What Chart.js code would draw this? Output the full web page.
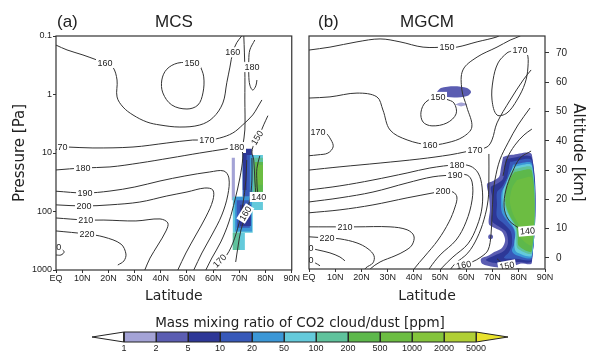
<!DOCTYPE html>
<html><head><meta charset="utf-8">
<script src="https://cdn.jsdelivr.net/npm/chart.js@4.4.1/dist/chart.umd.min.js"></script>
<style>
html,body{margin:0;padding:0;background:#fff;}
#wrap{position:relative;width:594px;height:352px;overflow:hidden;background:#fff;}
.c{position:absolute;}
</style></head><body>
<div id="wrap">
<div class="c" style="left:0;top:0;width:300px;height:305px"><canvas id="ca"></canvas></div>
<div class="c" style="left:300px;top:0;width:294px;height:305px"><canvas id="cb"></canvas></div>
<div class="c" style="left:60px;top:300px;width:480px;height:52px"><canvas id="cc"></canvas></div>
</div>
<script>
// ---------- ticks & levels ----------
const latTicks = [0,10,20,30,40,50,60,70,80,90];
const latTickLabels = ['EQ','10N','20N','30N','40N','50N','60N','70N','80N','90N'];
const pressureTicks = [0.1,1,10,100,1000];
const pressureTickLabels = ['0.1','1','10','100','1000'];
const altTicks = [0,10,20,30,40,50,60,70];
const levelBounds = ['1','2','5','10','20','50','100','200','500','1000','2000','5000'];
const levelColors = ['#a4a3d6','#5b5db2','#2d3797','#3759b9','#3b97d7','#64cadb','#5fc29c','#5db84b','#6cbd42','#84c43c','#b0cf35'];
const overColor = '#e9e22c';
const underColor = '#ffffff';

// ---------- (a) MCS temperature contours [lat, Pa] ----------
const mcs160 = [[0,0.143],[4.2,0.173],[10.3,0.211],[15.6,0.257],[18.7,0.29],[21.7,0.34],[23.3,0.565],[23.3,1.1],[25.6,1.64],[29.4,2.24],[34.7,2.95],[39.7,3.32],[47.3,3.6],[54.9,3.32],[59.9,2.5],[63.7,1.4],[65.2,0.63],[66.4,0.34],[67.5,0.19],[69.0,0.13],[70.9,0.1],[71.5,0.09]];
const mcs150 = [[54.9,0.31],[56.4,0.50],[56.1,0.94],[54.2,1.51],[50.0,1.77],[44.2,1.51],[40.8,0.94],[40.4,0.565],[42.3,0.37],[46.5,0.29],[51.9,0.29],[54.9,0.31]];
const mcs180hook = [[75.9,0.117],[74.0,0.173],[73.6,0.257],[73.6,0.464],[74.0,0.69],[75.1,0.84],[76.3,0.71],[76.7,0.565]];
const mcs170 = [[0,7.9],[4.2,7.9],[14.1,8.2],[29.4,7.9],[42.3,6.75],[52.2,6.0],[57.6,6.0],[62.5,5.55],[67.5,4.55],[71.3,3.3],[75.1,2.24],[77.0,1.64],[78.6,1.24]];
const mcs180 = [[0,19.5],[10.3,18.0],[20.6,17.3],[32.0,14.8],[43.5,12.2],[54.9,10.0],[64.5,8.55],[69.0,7.9],[70.9,8.9],[71.3,12.2],[70.2,26.7],[68.3,63.6],[66.0,151],[62.9,332],[59.5,624],[57.2,1000]];
const mcsVert = [[71.3,7.6],[72.1,4.04],[72.1,1.24],[72.1,0.38],[71.7,0.1],[71.6,0.09]];
const mcs190 = [[0,45],[11.1,48.3],[20.6,44.7],[30.1,38.1],[39.7,30.1],[49.2,24.7],[58.7,21.1],[64.1,20.3],[66.0,26.7],[65.6,52],[63.3,115],[59.5,252],[55.7,512],[52.6,1000]];
const mcs200 = [[0,77],[10.7,80.5],[20.6,77],[32.0,68.9],[42.3,54.3],[50.0,46.4],[56.8,39.7],[59.9,43],[59.9,64],[57.2,124],[53.4,252],[49.6,512],[46.5,1000]];
const mcs210 = [[0,129],[11.4,140],[18.3,140],[30.5,145],[39.7,134],[42.7,157],[42.0,215],[38.9,374],[35.9,624],[33.9,1000]];
const mcs220 = [[0,215],[11.8,243],[18.3,273],[24.8,360],[26.7,532],[25.9,702],[23.6,822]];
const mcs230 = [[0,421],[1.9,435],[3.1,492],[1.9,554],[0,554]];
const mcs170b = [[72.8,13.2],[72.5,29.0],[71.3,77.4],[69.4,191],[66.7,421],[63.3,729],[60.6,1000]];
const mcs160b = [[74.8,12.2],[74.8,29.0],[74.0,63.6],[72.5,110],[70.6,207],[69.4,421],[68.6,729]];
const mcs150b = [[80.9,2.3],[79.3,3.3],[77.8,4.7],[75.9,6.5],[74.8,9.6],[75.5,13.2],[75.9,29.0],[76.3,52]];
const mcs140 = [[77.8,11.2],[76.7,18.3],[76.7,31.2],[77.0,46.4],[77.8,56.5],[79.3,58.8]];
const mcsContours = [mcs160,mcs150,mcs180hook,mcs170,mcs180,mcsVert,mcs190,mcs200,mcs210,mcs220,mcs230,mcs170b,mcs160b,mcs150b,mcs140];
// [text, lat, Pa, angle]
const mcsLabels = [['160',18.7,0.29,0],['160',67.5,0.19,0],['150',51.9,0.29,0],['180',74.8,0.34,0],
  ['170',1.5,7.9,0],['170',57.6,6.0,0],['180',10.3,18.0,0],['180',69.0,7.9,0],['190',11.1,48.3,0],
  ['200',10.7,80.5,0],['210',11.4,140,0],['220',11.8,243,0],['230',-0.9,405,0],
  ['150',76.8,5.5,-58],['160',72.3,108,-58],['140',77.4,56.5,0],['170',62.5,700,-45]];
// MCS CO2 cloud/dust cells: lat range, pressure range, level index
const mcsCellLat0 = [71.3,71.3,71.3,71.3,72.5,75.1,75.9,76.7,67.1,67.5,67.5,67.5,68.3,69.0,70.2];
const mcsCellLat1 = [79.0,75.5,74.0,72.8,74.8,79.0,79.0,79.0,68.3,75.1,72.1,70.2,74.8,74.0,74.4];
const mcsCellP0   = [10.8,10.8,10,10,8.5,12,14.2,16,12,56,230,230,56,64,77];
const mcsCellP1   = [94,64,56,43,10.8,56,46,35,64,230,455,455,220,190,177];
const mcsCellLevel= [5,4,3,2,2,6,7,8,0,5,5,6,4,3,2];

// ---------- (b) MGCM temperature contours [lat, km] ----------
const gcm150 = [[0,71.0],[8.0,72.0],[18.3,73.8],[27.1,74.8],[34.7,73.8],[43.5,72.0],[52.6,72.0],[56.4,72.0],[64.1,73.8],[71.7,75.5],[73.5,76.5]];
const gcm170loop = [[77.4,70.7],[80.5,71.0],[83.1,70.0],[83.5,65.2],[82.4,59.7],[79.3,53.9],[75.5,49.5],[71.7,48.8],[69.8,53.9],[70.2,60.8],[72.1,66.6],[75.5,70.0],[77.4,70.7]];
const gcm150loop = [[52.2,54.3],[55.3,52.9],[56.1,49.2],[52.6,46.1],[46.9,45.1],[43.5,46.4],[42.7,49.8],[44.6,53.3],[49.2,55.0],[52.2,54.3]];
const gcm160 = [[0,54.6],[8.0,55.0],[18.3,56.3],[25.9,55.0],[28.2,50.5],[30.9,43.7],[37.4,40.3],[46.1,38.6],[52.6,39.3],[58.7,41.3],[62.1,44.7],[60.2,51.5],[58.3,57.4],[58.7,64.2],[64.1,68.6],[71.7,72.0],[76.7,74.4],[80.5,75.8],[82,77]];
const gcm170a = [[0,43.0],[6.1,42.7],[8.4,40.3],[9.2,37.9],[7.2,35.8],[3.4,35.2],[0,34.9]];
const gcm170 = [[0,30.0],[11.8,31.1],[27.1,32.4],[42.3,33.8],[53.8,35.2],[59.5,36.2],[63.3,36.9],[67.9,37.9],[69.8,40.3],[71.7,46.1],[76.7,53.9],[81.7,60.8],[84.7,64.2]];
const gcm180 = [[0,23.2],[11.8,24.6],[24.4,26.6],[37.4,29.0],[46.1,30.7],[56.4,31.8],[61.4,31.4],[64.5,29.0],[66.0,24.2],[66.0,17.4],[64.1,10.9],[60.6,4.8],[54.9,0.3],[50.7,-3.4],[49.6,-5]];
const gcm190 = [[0,19.1],[11.8,20.5],[24.4,22.5],[37.4,25.6],[47.3,27.7],[55.7,28.3],[60.3,28.3],[62.2,25.9],[62.2,19.8],[59.9,12.3],[56.1,6.1],[50.0,1.0],[46.1,-3.4],[45.2,-5]];
const gcm200 = [[0,15.4],[11.8,16.4],[24.4,18.1],[37.4,20.5],[47.3,22.2],[51.1,22.9],[54.9,22.5],[56.4,20.8],[55.7,17.4],[53.4,12.3],[49.2,6.1],[43.9,0.3],[40.4,-3.4],[39.5,-5]];
const gcm210 = [[0,10.6],[13.7,10.6],[18.3,10.6],[30.9,10.6],[37.4,9.6],[40.0,7.5],[39.3,4.4],[36.6,2.4],[32.8,0.7],[27.1,-1.4],[23.3,-3.8],[22.5,-5]];
const gcm220 = [[0,7.2],[6.9,6.8],[11.8,6.5],[18.3,5.1],[22.5,3.1],[24.8,0.7],[24.4,-1.7],[21.7,-3.4],[20.5,-5]];
const gcm230a = [[0,3.4],[3.4,2.7],[8.0,1.7],[11.8,0.3],[13.7,-1.0]];
const gcm230b = [[0,-1.0],[2.3,-1.7],[4.2,-2.7]];
const gcm170d = [[68.6,35.5],[68.6,26.6],[68.3,19.8],[66.7,13.0],[64.1,6.8],[60.6,1.7],[55.7,-2.0],[53.8,-4.1],[53.2,-5]];
const gcm160b = [[57.5,-5],[58.3,-2.7],[62.2,-1.4],[65.6,0.3],[68.3,2.7],[69.4,7.9],[69.8,14.7],[70.2,21.5],[70.9,26.6],[72.8,33.5],[75.9,39.3],[79.7,45.4],[84.3,51.2]];
const gcm150c = [[74.0,28],[75.5,33.8],[78.5,38.5],[82,42],[85,44]];
const gcm150s = [[82,-4],[77.4,-3.4],[74.0,-2.0],[71.7,-0.3]];
const gcm140 = [[84.7,36.5],[80.5,34.1],[77.4,29.0],[75.1,23.2],[74.4,17.4],[75.9,13.3],[79.3,10.6],[83.1,9.2],[85,9.2]];
const gcmContours = [gcm150,gcm170loop,gcm150loop,gcm160,gcm170a,gcm170,gcm180,gcm190,gcm200,gcm210,gcm220,gcm230a,gcm230b,gcm170d,gcm160b,gcm150c,gcm150s,gcm140];
const gcmLabels = [['150',52.6,72.0,0],['170',80.5,71.0,0],['150',49.2,55.0,0],['160',46.1,38.6,0],['170',3.4,43.0,0],
  ['170',63.3,36.9,0],['180',56.4,31.8,0],['190',55.7,28.3,0],['200',51.1,22.9,0],['210',13.7,10.6,0],['220',6.9,6.8,0],
  ['230',-1.1,3.4,0],['230',-1.1,-0.7,0],['160',59.0,-2.4,-10],['150',75.5,-2.7,-10],['140',83.3,9.2,-5]];
// MGCM CO2 cloud/dust filled regions [lat, km] with level index
const gcmF1 = [[74.0,34.5],[77.4,35.2],[85.0,35.2],[85.0,-1.7],[80.5,-2.0],[75.9,-3.4],[70.6,-3.1],[66.0,-2.0],[65.6,-0.3],[68.3,0.7],[70.6,2.0],[73.6,3.4],[74.8,6.1],[73.6,8.9],[70.9,10.2],[68.6,11.6],[69.0,16.4],[68.6,21.2],[67.9,25.3],[70.2,26.3],[72.5,27.7],[73.2,30.7]];
const gcmF2 = [[75.1,33.8],[85.0,34.1],[85.0,-1.0],[79.7,-1.4],[75.1,-2.0],[70.6,-1.7],[67.5,-0.7],[70.6,0.7],[74.4,2.4],[75.9,5.1],[75.1,8.9],[72.1,10.9],[69.8,12.6],[70.2,17.1],[69.8,21.2],[69.4,24.2],[71.7,25.3],[74.0,27.0],[74.4,30.7]];
const gcmF3 = [[76.7,32.8],[85.0,33.1],[85.0,-0.3],[78.9,-0.3],[74.4,0],[76.3,2.0],[77.4,4.8],[77.0,8.9],[74.4,11.6],[71.7,14.0],[71.7,18.4],[71.7,22.5],[73.6,24.2],[75.5,27.3]];
const gcmF4 = [[77.8,31.8],[85.0,32.1],[85.0,0.3],[78.9,1.0],[77.4,2.4],[78.6,5.5],[78.2,9.6],[75.9,12.3],[73.6,15.4],[73.2,19.5],[73.6,22.9],[75.5,25.6],[76.7,28.3]];
const gcmF5 = [[77.9,31.1],[85.0,31.4],[85.0,1.0],[79.1,2.0],[78.3,4.8],[78.7,8.9],[76.8,12.3],[74.5,15.7],[73.8,19.8],[74.1,23.2],[75.3,25.9],[76.4,28.3]];
const gcmF6 = [[78.2,30.4],[85.0,30.7],[85.0,1.7],[79.7,3.1],[79.0,6.1],[79.0,9.6],[77.4,12.6],[75.2,16.4],[74.4,20.1],[74.8,23.6],[75.9,26.3],[76.7,28.7]];
const gcmF7 = [[78.5,29.4],[85.0,29.7],[85.0,2.4],[80.0,4.1],[79.6,7.5],[78.9,10.9],[76.6,14.3],[75.0,18.4],[75.0,22.2],[75.8,25.3],[76.9,27.7]];
const gcmF8 = [[79.3,26.6],[85.0,27.3],[85.0,4.4],[80.8,6.8],[80.1,10.9],[77.8,15.0],[76.6,19.1],[77.0,22.5],[77.8,24.6]];
const gcmDot = [[68.6,7.9],[69.8,7.9],[70.2,7.2],[69.8,6.5],[68.6,6.5],[68.3,7.2]];
const gcmEllipse = [[48.8,56.7],[50.3,58.0],[55.3,58.6],[60.3,58.0],[61.8,56.7],[60.3,55.3],[55.3,54.8],[50.3,55.3]];
const gcmEllipseSmall = [[55.7,52.4],[58.0,53.1],[60.3,52.4],[58.0,51.7]];
const gcmFills = [gcmF1,gcmF2,gcmF3,gcmF4,gcmF5,gcmF6,gcmF7,gcmF8,gcmDot,gcmEllipse,gcmEllipseSmall];
const gcmFillLevel = [1,2,3,4,5,6,7,8,1,1,0];

// ---------- helpers ----------
const SANS = '"Liberation Sans", Arial, sans-serif';
const DJV = '"DejaVu Sans", sans-serif';
const toXY = pts => pts.map(p => ({x:p[0], y:p[1]}));
function lineDS(pts){ return {data:toXY(pts), showLine:true, fill:false, borderColor:'#333', borderWidth:1, pointRadius:0, tension:0.35, order:0}; }
function polyDS(pts, color, order, tension){ return {data:toXY(pts), showLine:true, fill:'shape', backgroundColor:color, borderColor:color, borderWidth:0, pointRadius:0, tension:tension, order:order}; }

function labelPlugin(labels){
  return {id:'clabels', afterDatasetsDraw(chart){
    const {ctx, chartArea:a, scales} = chart;
    ctx.save();
    ctx.beginPath(); ctx.rect(a.left, a.top, a.right-a.left, a.bottom-a.top); ctx.clip();
    ctx.font = '9px ' + SANS; ctx.textAlign='center'; ctx.textBaseline='middle';
    for (const [t, lat, v, ang] of labels){
      const x = scales.x.getPixelForValue(lat), y = scales.y.getPixelForValue(v);
      ctx.save(); ctx.translate(x,y); ctx.rotate(ang*Math.PI/180);
      const w = ctx.measureText(t).width;
      ctx.fillStyle='#fff'; ctx.fillRect(-w/2-1.5,-5,w+3,10);
      ctx.fillStyle='#222'; ctx.fillText(t,0,0.5);
      ctx.restore();
    }
    ctx.restore();
  }};
}
function framePlugin(letter, dx){
  return {id:'frame', afterDraw(chart){
    const {ctx, chartArea:a} = chart;
    ctx.save(); ctx.strokeStyle='#333'; ctx.lineWidth=1.2;
    ctx.strokeRect(a.left, a.top, a.right-a.left, a.bottom-a.top);
    ctx.fillStyle='#222'; ctx.font='17px '+SANS; ctx.textAlign='left'; ctx.textBaseline='middle';
    ctx.fillText(letter, a.left+dx, 22);
    ctx.restore();
  }};
}
function latScale(h){
  return {type:'linear', min:0, max:90,
    afterBuildTicks: s => { s.ticks = latTicks.map(v => ({value:v})); },
    afterFit: s => { s.height = h; },
    ticks:{callback:(v,i)=>latTickLabels[i], font:{family:SANS,size:9}, color:'#222', padding:0, maxRotation:0, autoSkip:false},
    grid:{display:true, drawOnChartArea:false, drawTicks:true, tickLength:3, color:'#333'},
    border:{display:false},
    title:{display:true, text:'Latitude', font:{family:DJV,size:14}, color:'#222', padding:{top:0,bottom:0}}};
}
function titleOpt(t){
  return {display:true, text:t, fullSize:false, color:'#222', font:{family:SANS,size:17,weight:'normal'}, padding:{top:12,bottom:3.6}};
}

// ---------- panel (a) ----------
const dsA = mcsContours.map(lineDS);
mcsCellLat0.forEach((l0,i) => {
  const l1 = mcsCellLat1[i], p0 = mcsCellP0[i], p1 = mcsCellP1[i];
  dsA.push(polyDS([[l0,p0],[l1,p0],[l1,p1],[l0,p1]], levelColors[mcsCellLevel[i]], 100-i, 0));
});
new Chart(document.getElementById('ca'), {
  type:'scatter', data:{datasets:dsA},
  options:{responsive:true, maintainAspectRatio:false, animation:false,
    layout:{padding:{left:0,right:8,top:0,bottom:0}},
    plugins:{legend:{display:false}, tooltip:{enabled:false}, title:titleOpt('MCS')},
    scales:{
      x: latScale(35),
      y:{type:'logarithmic', reverse:true, min:0.1, max:1000,
        afterBuildTicks: s => { s.ticks = pressureTicks.map(v => ({value:v})); },
        afterFit: s => { s.width = 56; },
        ticks:{callback:(v,i)=>pressureTickLabels[i], font:{family:SANS,size:9}, color:'#222', padding:1, autoSkip:false},
        grid:{display:true, drawOnChartArea:false, drawTicks:true, tickLength:3, color:'#333'},
        border:{display:false},
        title:{display:true, text:'Pressure [Pa]', font:{family:DJV,size:15}, color:'#222', padding:{top:11,bottom:0}}}
    }},
  plugins:[labelPlugin(mcsLabels), framePlugin('(a)',1)]
});

// ---------- panel (b) ----------
const dsB = gcmContours.map(lineDS);
gcmFills.forEach((f,i) => dsB.push(polyDS(f, levelColors[gcmFillLevel[i]], 100-i, 0.3)));
new Chart(document.getElementById('cb'), {
  type:'scatter', data:{datasets:dsB},
  options:{responsive:true, maintainAspectRatio:false, animation:false,
    layout:{padding:{left:9,right:0,top:0,bottom:0}},
    plugins:{legend:{display:false}, tooltip:{enabled:false}, title:titleOpt('MGCM')},
    scales:{
      x: latScale(36),
      y:{type:'linear', position:'right', min:-3.8, max:75.8,
        afterBuildTicks: s => { s.ticks = altTicks.map(v => ({value:v})); },
        afterFit: s => { s.width = 49; },
        ticks:{callback:(v,i)=>String(altTicks[i]), font:{family:SANS,size:10}, color:'#222', padding:7, autoSkip:false},
        grid:{display:true, drawOnChartArea:false, drawTicks:true, tickLength:4, color:'#333'},
        border:{display:false},
        title:{display:true, text:'Altitude [km]', font:{family:DJV,size:15}, color:'#222', padding:{top:7,bottom:0}}}
    }},
  plugins:[labelPlugin(gcmLabels), framePlugin('(b)',9)]
});

// ---------- colour bar ----------
const dsC = [];
levelColors.forEach((c,i) => dsC.push({data:toXY([[i,0],[i+1,0],[i+1,1],[i,1],[i,0]]), showLine:true, fill:'shape', backgroundColor:c, borderColor:'#222', borderWidth:1, pointRadius:0, tension:0, clip:false}));
dsC.push({data:toXY([[-1,0.5],[0,0],[0,1],[-1,0.5]]), showLine:true, fill:'shape', backgroundColor:underColor, borderColor:'#222', borderWidth:1, pointRadius:0, tension:0, clip:false});
dsC.push({data:toXY([[11,0],[12,0.5],[11,1],[11,0]]), showLine:true, fill:'shape', backgroundColor:overColor, borderColor:'#222', borderWidth:1, pointRadius:0, tension:0, clip:false});
new Chart(document.getElementById('cc'), {
  type:'scatter', data:{datasets:dsC},
  options:{responsive:true, maintainAspectRatio:false, animation:false,
    layout:{padding:{left:32,right:32,top:0,bottom:0}},
    plugins:{legend:{display:false}, tooltip:{enabled:false},
      title:{display:true, text:'Mass mixing ratio of CO2 cloud/dust [ppm]', color:'#222', font:{family:DJV,size:13.5,weight:'normal'}, padding:{top:15,bottom:0.8}}},
    scales:{
      x:{type:'linear', min:-1, max:12,
        afterBuildTicks: s => { s.ticks = levelBounds.map((b,i) => ({value:i})); },
        afterFit: s => { s.height = 10; },
        ticks:{callback:(v,i)=>levelBounds[i], font:{family:SANS,size:9}, color:'#222', padding:1, maxRotation:0, autoSkip:false},
        grid:{display:false, drawTicks:false}, border:{display:false}},
      y:{type:'linear', min:0, max:1, display:false}
    }}
});
</script>
</body></html>
